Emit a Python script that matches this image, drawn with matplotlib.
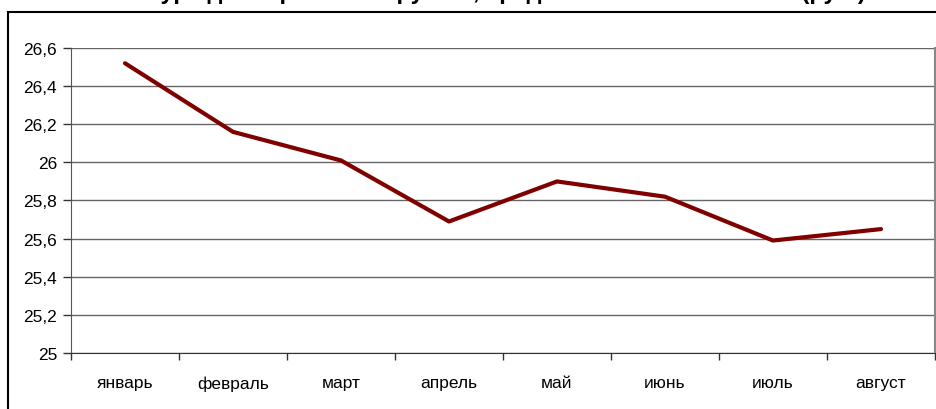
import matplotlib
matplotlib.use("Agg")
import matplotlib.pyplot as plt
from matplotlib.patches import Rectangle
from matplotlib.ticker import FuncFormatter

months = ["январь", "февраль", "март", "апрель", "май", "июнь", "июль", "август"]
rate = [26.52, 26.16, 26.01, 25.69, 25.90, 25.82, 25.59, 25.65]
y_ticks = [25.0, 25.2, 25.4, 25.6, 25.8, 26.0, 26.2, 26.4, 26.6]
title = "Курс доллара США к рублю, среднемесячное значение (руб.)"

plt.rcParams['font.family'] = ['Liberation Sans', 'DejaVu Sans']

fig = plt.figure(figsize=(9.37, 4.10), dpi=100)
W, H = 937, 410

# outer chart frame (partly cut off by the image edges)
fig.patches.append(Rectangle((8 / W, -0.1), 1.0, (H - 13) / H + 0.1,
                             transform=fig.transFigure, fill=False,
                             edgecolor='black', linewidth=1.5))

# title mostly cropped away at the top, as in the source picture
fig.text(0.54, (H + 0.5) / H, title, ha='center', va='baseline',
         fontsize=17, fontweight='bold')

ax = fig.add_axes([71 / W, (H - 354) / H, (935 - 71) / W, (354 - 49) / H])

x = range(len(months))
ax.plot(x, rate, color='#800000', linewidth=3, solid_capstyle='round',
        solid_joinstyle='round', zorder=3)

ax.set_xlim(-0.5, len(months) - 0.5)
ax.set_ylim(25, 26.6)
ax.set_yticks(y_ticks)
ax.yaxis.set_major_formatter(FuncFormatter(
    lambda v, p: (f"{v:.1f}".rstrip('0').rstrip('.')).replace('.', ',')))
ax.set_xticks(list(x))
ax.set_xticklabels(months)
ax.set_xticks([i - 0.5 for i in range(len(months) + 1)], minor=True)
ax.tick_params(axis='x', which='major', length=0, pad=16, labelsize=12.5)
ax.tick_params(axis='x', which='minor', length=5, width=1, color='#333333')
ax.tick_params(axis='y', length=6, width=1, color='#333333', labelsize=12.5, pad=4)

ax.grid(axis='y', color='#666666', linewidth=1)
ax.set_axisbelow(True)
ax.spines['top'].set_visible(False)
ax.spines['right'].set_color('#888888')
ax.spines['right'].set_linewidth(1.5)
ax.spines['left'].set_color('#555555')
ax.spines['bottom'].set_color('#333333')

fig.savefig("out.png", dpi=100)
